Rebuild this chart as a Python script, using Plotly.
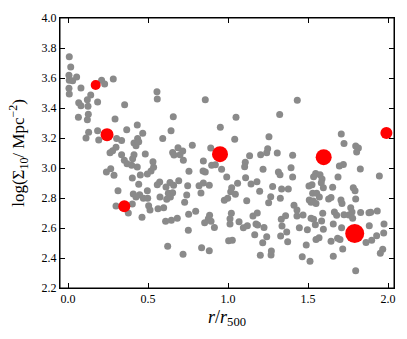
import plotly.graph_objects as go

# grey galaxies: (r/r500, log Sigma10)
gray_x = [0.008, 0.017, 0.006, 0.008, 0.029, 0.054, 0.006, 0.008, 0.081, 0.21, 0.229, 0.283,
          0.142, 0.121, 0.067, 0.081, 0.125, 0.185, 0.354, 0.127, 0.065, 0.121, 0.294, 0.556,
          0.558, 0.658, 0.433, 0.367, 0.185, 0.129, 0.1125, 0.192, 0.304, 0.335, 0.467, 0.435,
          0.4125, 0.425, 0.442, 0.592, 0.644, 0.3, 0.279, 0.2625, 0.335, 0.4125, 0.483,
          0.858, 1.05, 0.952, 1.323, 1.256, 1.042, 0.777, 0.6875, 0.717, 0.654, 0.7, 0.892,
          1.135, 1.204, 1.248, 1.242, 1.308,
          1.433, 1.708, 1.725, 1.798, 1.815, 1.804, 1.404,
          0.352, 0.369, 0.398, 0.404, 0.433, 0.452, 0.496, 0.519, 0.535, 0.531, 0.267, 0.24,
          0.2875, 0.402, 0.442, 0.496, 0.3125, 0.408, 0.448, 0.425, 0.471, 0.498, 0.3, 0.402,
          0.377, 0.504, 0.5125, 0.4625, 0.573, 0.558, 0.6125, 0.6375, 0.66, 0.627, 0.654,
          0.575, 0.617, 0.64, 0.598, 0.5625, 0.61, 0.646, 0.623,
          0.6625, 0.721, 0.846, 0.898, 0.921, 0.96, 0.844, 0.858, 0.756, 0.992, 1.108, 1.104,
          1.219, 1.315, 1.325, 1.11, 1.181, 1.144, 1.06, 1.023, 1.017, 1.046, 0.998, 0.977,
          1.117, 1.198, 1.279, 1.267, 1.254, 1.335, 1.327, 0.692, 0.748, 0.742, 0.729, 0.819,
          0.846, 0.883, 0.831, 0.798, 0.754, 0.683, 0.885, 0.877, 0.894, 0.854, 0.915, 1.021,
          1.0125, 1.0125, 1.069, 1.096, 1.121, 1.156, 1.183, 1.175, 1.185, 1.225, 1.167, 1.242,
          1.217, 1.329, 1.333, 1.3375, 0.752, 1.004, 1.027, 0.835, 0.883, 0.719, 1.202, 1.269,
          1.271,
          1.394, 1.404, 1.696, 1.721, 1.827, 1.6875, 1.946, 1.548, 1.575, 1.535, 1.5875, 1.583,
          1.525, 1.506, 1.596, 1.654, 1.529, 1.554, 1.571, 1.629, 1.644, 1.508, 1.519, 1.533,
          1.55, 1.706, 1.7125, 1.783, 1.794, 1.798, 1.377, 1.4125, 1.431, 1.36, 1.431, 1.469,
          1.519, 1.535, 1.546, 1.585, 1.592, 1.665, 1.679, 1.725, 1.767, 1.775, 1.756, 1.779,
          1.829, 1.881, 1.892, 1.933, 1.883, 1.975, 1.973, 1.929, 1.8625, 1.898, 1.967, 1.952,
          1.798, 1.658, 1.717, 1.685, 1.7, 1.644, 1.569, 1.55, 1.489, 1.464, 1.5125, 1.373,
          1.367, 1.446, 1.496, 1.596, 1.658, 1.71]
gray_y = [3.742, 3.673, 3.618, 3.585, 3.582, 3.607, 3.531, 3.493, 3.533, 3.585, 3.56, 3.593,
          3.487, 3.455, 3.435, 3.415, 3.411, 3.44, 3.422, 3.358, 3.338, 3.322, 3.327, 3.509,
          3.46, 3.342, 3.287, 3.255, 3.249, 3.238, 3.2, 3.187, 3.196, 3.184, 3.231, 3.196,
          3.167, 3.149, 3.175, 3.196, 3.249, 3.138, 3.115, 3.102, 3.089, 3.089, 3.093,
          3.455, 3.338, 3.271, 3.356, 3.209, 3.191, 3.151, 3.135, 3.113, 3.104, 3.089, 3.133,
          3.082, 3.089, 3.129, 3.102, 3.1,
          3.451, 3.227, 3.164, 3.147, 3.133, 3.107, 3.085,
          3.051, 3.029, 3.018, 3.062, 3.007, 2.953, 2.96, 2.98, 3.005, 3.042, 2.995, 2.973,
          2.951, 2.933, 2.891, 2.849, 2.849, 2.827, 2.822, 2.807, 2.798, 2.798, 2.747, 2.76,
          2.7, 2.749, 2.72, 2.671, 2.907, 2.889, 2.873, 2.904, 2.885, 2.831, 2.835,
          2.807, 2.791, 2.807, 2.735, 2.729, 2.645, 2.651, 2.478,
          3.087, 3.051, 3.047, 3.018, 3.022, 2.991, 2.98, 2.973, 2.978, 2.94, 3.038, 3.009,
          2.991, 2.973, 2.955, 2.935, 2.909, 2.893, 2.898, 2.869, 2.842, 2.825, 2.798, 2.785,
          2.782, 2.845, 2.876, 2.809, 2.769, 2.86, 2.798, 2.915, 2.882, 2.82, 2.771, 2.882,
          2.9, 2.885, 2.833, 2.711, 2.691, 2.665, 2.685, 2.662, 2.645, 2.635, 2.604, 2.698,
          2.662, 2.627, 2.642, 2.602, 2.615, 2.68, 2.7, 2.627, 2.62, 2.604, 2.555, 2.542,
          2.502, 2.547, 2.658, 2.613, 2.585, 2.515, 2.518, 2.469, 2.449, 2.425, 2.418, 2.42,
          2.447,
          3.002, 2.94, 3.013, 3.024, 2.993, 2.94, 2.947, 2.964, 2.955, 2.942, 2.927, 2.902,
          2.889, 2.88, 2.869, 2.871, 2.831, 2.831, 2.807, 2.793, 2.804, 2.787, 2.771, 2.78,
          2.764, 2.787, 2.764, 2.869, 2.849, 2.793, 2.86, 2.751, 2.72, 2.682, 2.68, 2.687,
          2.665, 2.658, 2.622, 2.647, 2.698, 2.707, 2.685, 2.689, 2.735, 2.707, 2.687, 2.665,
          2.704, 2.702, 2.705, 2.713, 2.615, 2.627, 2.567, 2.549, 2.504, 2.518, 2.458, 2.431,
          2.315, 2.411, 2.46, 2.531, 2.524, 2.511, 2.535, 2.524, 2.487, 2.409, 2.378, 2.509,
          2.573, 2.602, 2.589, 2.591, 2.627, 2.602]

# highlighted (red) objects and their marker sizes
red_x = [0.173, 0.244, 0.352, 0.95, 1.598, 1.792, 1.99]
red_y = [3.553, 3.222, 2.745, 3.092, 3.072, 2.563, 3.233]
red_size = [10, 13, 12, 16, 16, 19, 12]

fig = go.Figure()
fig.add_trace(go.Scatter(x=gray_x, y=gray_y, mode='markers',
                         marker=dict(color='#8a8a8a', size=7, opacity=1, line=dict(width=0))))
fig.add_trace(go.Scatter(x=red_x, y=red_y, mode='markers',
                         marker=dict(color='#ff0000', size=red_size, opacity=1, line=dict(width=0))))

axis_style = dict(showline=True, linecolor='black', linewidth=1, mirror='allticks',
                  ticks='inside', ticklen=5, tickwidth=1, tickcolor='black', showgrid=False,
                  zeroline=False, tickfont=dict(family='Liberation Serif', size=12, color='black'))

fig.update_layout(
    width=407, height=339, showlegend=False,
    margin=dict(l=60, r=13, t=18, b=51),
    plot_bgcolor='white', paper_bgcolor='white',
    xaxis=dict(range=[-0.05, 2.0375], tickvals=[0, 0.5, 1.0, 1.5, 2.0],
               ticktext=['0.0', '0.5', '1.0', '1.5', '2.0'],
               title=dict(text='<i>r</i>/<i>r</i><sub>500</sub>', standoff=4,
                          font=dict(family='Liberation Serif', size=18, color='black')),
               **axis_style),
    yaxis=dict(range=[2.2, 4.0], tickvals=[2.2, 2.4, 2.6, 2.8, 3.0, 3.2, 3.4, 3.6, 3.8, 4.0],
               ticktext=['2.2', '2.4', '2.6', '2.8', '3.0', '3.2', '3.4', '3.6', '3.8', '4.0'],
               title=dict(text='log(Σ<sub>10</sub>/ Mpc<sup>−2</sup>)', standoff=12,
                          font=dict(family='Liberation Serif', size=17, color='black')),
               **axis_style),
)
# frame round the plotting area
fig.add_shape(type='rect', xref='paper', yref='paper', x0=0, y0=0, x1=1, y1=1,
              line=dict(color='black', width=1), layer='above')

fig.write_html("out.html", config={'displayModeBar': False},
               post_script="document.body.style.margin='0';")
